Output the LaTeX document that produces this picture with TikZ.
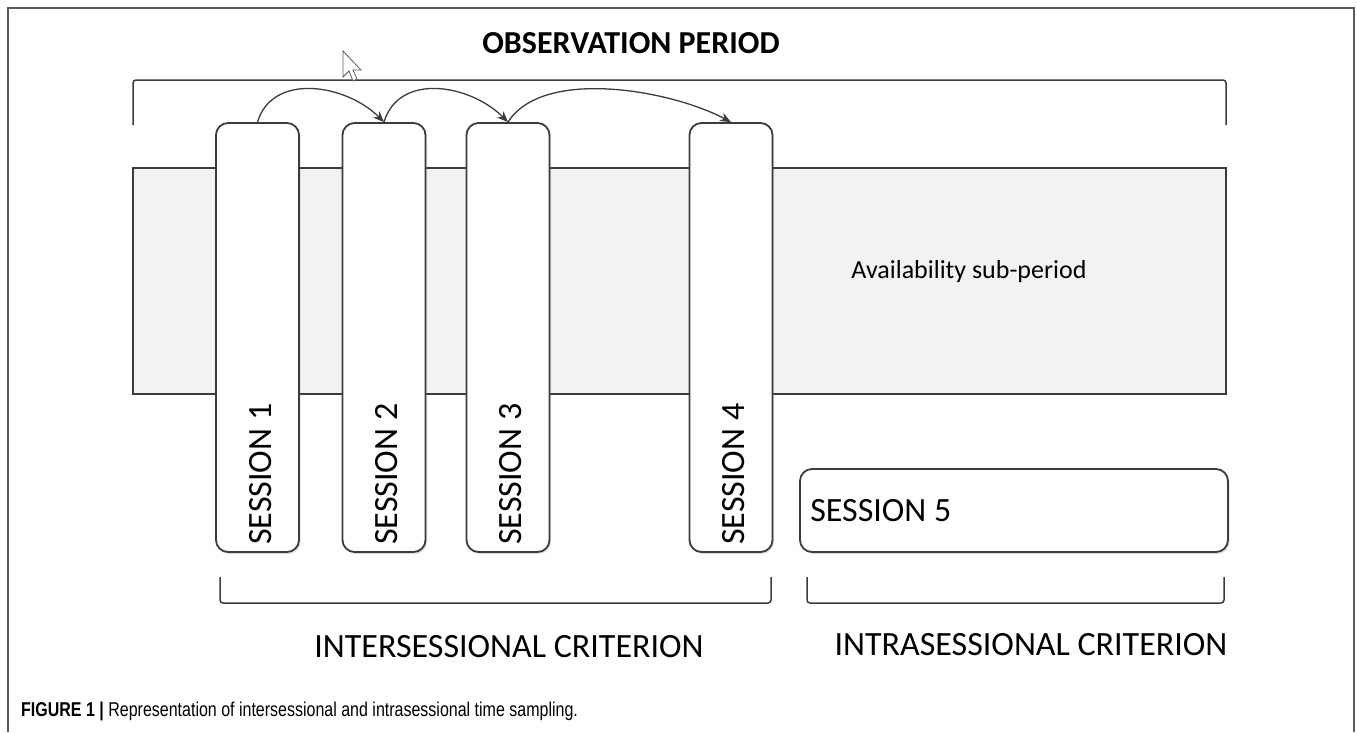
\documentclass[tikz,border=0pt]{standalone}
\usepackage{fontspec}
\setmainfont{Carlito}
\newfontfamily\capfont[FakeStretch=0.8]{Liberation Sans}
\usetikzlibrary{arrows.meta,shadows}

\definecolor{framegray}{HTML}{5A5A5A}
\definecolor{linegray}{HTML}{3C3C3C}
\definecolor{bandgray}{HTML}{F2F2F2}

\tikzset{
	sessbox/.style={draw=linegray, line width=1.8pt, fill=white, rounded corners=12pt,
		minimum width=83pt, minimum height=429pt, inner sep=0pt,
		drop shadow={shadow xshift=1.5pt, shadow yshift=-2pt, opacity=0.25}},
	sesslabel/.style={font=\fontsize{34}{40}\selectfont, rotate=90, anchor=west, inner sep=0pt},
	bracketline/.style={draw=linegray, line width=1.5pt, rounded corners=3pt},
	hop/.style={draw=linegray, line width=1.3pt, -{Stealth[length=11pt,width=9pt]}},
	critlabel/.style={font=\fontsize{34}{40}\selectfont, inner sep=0pt}
}

\begin{document}
\begin{tikzpicture}[x=1pt,y=-1pt]
		\useasboundingbox (0,0) rectangle (1357,732);
		% frame
		\draw[framegray, line width=1.3pt] (8,732) -- (8,8) -- (1354,8) -- (1354,732);
		
		\node[font=\bfseries\fontsize{32}{38}\selectfont] (title) at (631,43) {OBSERVATION PERIOD};
		\draw[bracketline] (133,125) -- (133,80) -- (1226,80) -- (1226,125);
		
		% availability sub-period
		\node[draw=linegray, line width=1.5pt, fill=bandgray, minimum width=1093pt,
			minimum height=226pt, inner sep=0pt] (band) at (679.5,281) {};
		\node[font=\fontsize{26}{30}\selectfont] (avail) at (969,272) {Availability sub-period};
		
		% sessions
		\node[sessbox] (s1) at (257.5,337.5) {};
		\node[sessbox] (s2) at (384,337.5) {};
		\node[sessbox] (s3) at (508,337.5) {};
		\node[sessbox] (s4) at (731,337.5) {};
		\foreach \i in {1,...,4}
			\node[sesslabel] (l\i) at ([xshift=3pt,yshift=8pt]s\i.south) {SESSION \i};
		
		\node[sessbox, minimum width=428pt, minimum height=83pt] (s5) at (1014,510.5) {};
		\node[critlabel, anchor=west] (l5) at ([xshift=11pt]s5.west) {SESSION 5};
		
		\draw[hop] (s1.north) .. controls +(15,-50) and +(-38,-38) .. (s2.north);
		\draw[hop] (s2.north) .. controls +(15,-50) and +(-38,-38) .. (s3.north);
		\draw[hop] (s3.north) .. controls +(35,-55) and +(-60,-32) .. (s4.north);
		
		% criteria
		\draw[bracketline] (220,577) -- (220,603) -- (771,603) -- (771,577);
		\draw[bracketline] (807,577) -- (807,603) -- (1224,603) -- (1224,577);
		\node[critlabel] (inter) at (509,647) {INTERSESSIONAL CRITERION};
		\node[critlabel] (intra) at (1031,645) {INTRASESSIONAL CRITERION};
		
		% pointer
		\draw[fill=white, draw=framegray, line width=0.8pt] (343,51) -- ++(0,26) -- ++(6,-6)
			-- ++(4,10) -- ++(4,-2) -- ++(-4,-9) -- ++(8,0) -- cycle;
		
		\node[anchor=west, inner sep=0pt, font=\capfont\fontsize{20}{24}\selectfont] (caption) at (21,711)
			{\textbf{FIGURE 1 |} Representation of intersessional and intrasessional time sampling.};
\end{tikzpicture}
\end{document}
